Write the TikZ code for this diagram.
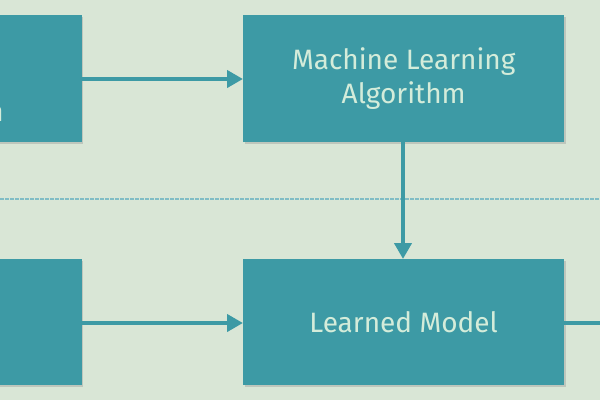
\documentclass[tikz,border=0pt]{standalone}
\usepackage{fontspec}
\setmainfont{Fira Sans}
\usetikzlibrary{shadows,arrows.meta}
\definecolor{bg}{HTML}{D9E6D6}
\definecolor{boxteal}{HTML}{3D9AA5}
\definecolor{txt}{HTML}{D4ECDA}
\tikzset{
  boxfont/.style={font=\fontsize{28}{34}\selectfont},
  box/.style={fill=boxteal, draw=none, text=txt, align=center, boxfont,
    drop shadow={shadow xshift=1.5pt, shadow yshift=-1.5pt, fill=black!45, opacity=0.35}},
  flow/.style={draw=boxteal, line width=4.5pt, -{Triangle[length=16pt,width=17pt]}},
  plain/.style={draw=boxteal, line width=4.5pt},
  sep/.style={draw=boxteal!65, line width=1.3pt, dash pattern=on 4pt off 1pt}
}
\begin{document}
\begin{tikzpicture}[x=1pt,y=-1pt]
\fill[bg] (0,0) rectangle (600,400);
\useasboundingbox (0,0) rectangle (600,400);
% separator
\coordinate (sl) at (0,199);
\coordinate (sr) at (600,199);
\draw[sep] (sl) -- (sr);
% boxes
\node[box, minimum width=162pt, minimum height=127pt, anchor=north east] (tl) at (82,15) {};
\node[box, minimum width=162pt, minimum height=126pt, anchor=north east] (bl) at (82,259) {};
\node[anchor=east, text=txt, boxfont, inner sep=0pt] (tlt) at (4,114) {n};
\node[box, minimum width=321pt, minimum height=127pt, anchor=north west] (ml) at (243,15) {Machine Learning\\Algorithm};
\node[box, minimum width=321pt, minimum height=126pt, anchor=north west] (lm) at (243,259) {Learned Model};
% connectors
\coordinate (out) at (610,323);
\draw[flow] (tl.east |- 0,79) -- (ml.west |- 0,79);
\draw[flow] (bl.east |- 0,323) -- (lm.west |- 0,323);
\draw[flow] (ml.south -| 403,0) -- (lm.north -| 403,0);
\draw[plain] (lm.east |- 0,323) -- (out);
\end{tikzpicture}
\end{document}
